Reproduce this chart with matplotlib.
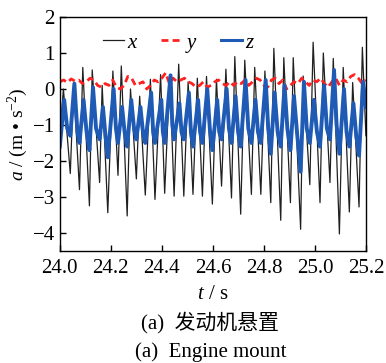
import numpy as np
import matplotlib as mpl
import matplotlib.pyplot as plt

mpl.use('Agg')

plt.rcParams['font.family'] = ['Liberation Serif', 'Noto Sans CJK SC']
plt.rcParams['mathtext.fontset'] = 'custom'
plt.rcParams['mathtext.rm'] = 'Liberation Serif'
plt.rcParams['mathtext.it'] = 'Liberation Serif:italic'

# x direction: turning points (trough / peak)
x_t = [24.000, 24.014, 24.041, 24.054, 24.077, 24.090, 24.116, 24.127, 24.156, 24.166,
       24.188, 24.208, 24.228, 24.241, 24.264, 24.277, 24.300, 24.313, 24.335, 24.355,
       24.373, 24.395, 24.411, 24.431, 24.448, 24.466, 24.486, 24.503, 24.522, 24.539,
       24.559, 24.575, 24.598, 24.614, 24.634, 24.651, 24.673, 24.686, 24.709, 24.725,
       24.751, 24.764, 24.788, 24.804, 24.827, 24.839, 24.866, 24.878, 24.904, 24.915,
       24.944, 24.954, 24.980, 24.993, 25.020, 25.033, 25.059, 25.072, 25.096, 25.111,
       25.135, 25.148, 25.173, 25.186, 25.200]
x_a = [-1.3, 0.0, -2.35, 0.1, -2.8, 0.6, -3.25, 0.53, -2.6, 0.1,
       -3.44, 0.5, -2.4, 0.64, -3.53, 0.0, -2.5, -0.2, -2.95, 0.27,
       -3.07, 0.4, -2.9, 0.38, -2.98, 0.69, -2.98, 0.2, -2.93, 0.3,
       -2.98, 0.35, -3.2, 0.27, -2.7, 0.55, -3.03, 0.9, -3.48, 0.8,
       -2.93, 0.6, -2.93, 0.5, -3.16, 1.13, -3.65, 0.87, -3.16, 0.87,
       -3.9, 0.36, -2.66, 1.3, -3.16, 1.0, -2.6, 0.85, -4.03, 0.6,
       -3.42, 0.18, -3.28, 1.16, -1.3]

# z direction: trough, peak, shoulder per cycle
z_t = [24.000, 24.017, 24.029, 24.041, 24.057, 24.069, 24.077, 24.093, 24.105, 24.116,
       24.130, 24.142, 24.156, 24.169, 24.179, 24.188, 24.211, 24.220, 24.228, 24.244,
       24.254, 24.264, 24.280, 24.291, 24.300, 24.316, 24.326, 24.335, 24.358, 24.366,
       24.373, 24.398, 24.404, 24.411, 24.434, 24.441, 24.448, 24.469, 24.477, 24.486,
       24.506, 24.514, 24.522, 24.542, 24.550, 24.559, 24.578, 24.588, 24.598, 24.617,
       24.625, 24.634, 24.654, 24.663, 24.673, 24.689, 24.699, 24.709, 24.728, 24.739,
       24.751, 24.767, 24.777, 24.788, 24.807, 24.817, 24.827, 24.842, 24.854, 24.866,
       24.881, 24.892, 24.904, 24.918, 24.931, 24.944, 24.957, 24.968, 24.980, 24.996,
       25.008, 25.020, 25.036, 25.047, 25.059, 25.075, 25.085, 25.096, 25.114, 25.124,
       25.135, 25.151, 25.162, 25.173, 25.189, 25.200]
z_a = [-1.6, -0.3, -1.1, -1.3, 0.15, -1.2, -1.5, -0.3, -1.2, -1.7,
       0.05, -1.1, -1.4, -0.5, -1.3, -1.9, 0.0, -1.1, -1.5, -0.5,
       -1.2, -1.6, -0.3, -1.1, -1.4, -0.5, -1.2, -1.5, -0.1, -1.2,
       -1.5, -0.3, -1.2, -1.5, 0.38, -1.0, -1.4, -0.4, -1.2, -1.4,
       -0.1, -1.2, -1.6, -0.3, -1.2, -1.5, 0.0, -1.1, -1.7, -0.3,
       -1.2, -1.4, 0.0, -1.1, -1.5, -0.2, -1.2, -1.6, 0.25, -1.1,
       -1.5, -0.3, -1.2, -1.5, 0.25, -1.1, -1.8, -0.1, -1.2, -1.6,
       0.1, -1.1, -1.7, -0.2, -1.3, -2.3, 0.2, -1.1, -1.5, -0.3,
       -1.2, -1.6, 0.1, -1.1, -1.4, 0.53, -1.0, -1.8, 0.0, -1.2,
       -1.6, -0.4, -1.3, -1.85, 0.2, -0.5]

# y direction: evenly sampled
y_a = [0.2, 0.25, 0.18, 0.28, 0.22, 0.25, 0.15, 0.2,
       0.3, 0.25, 0.1, 0.05, 0.15, 0.1, 0.25, 0.05,
       0.0, 0.1, 0.35, 0.3, 0.1, 0.15, 0.2, 0.0,
       0.1, 0.25, 0.2, 0.3, 0.45, 0.15, 0.3, 0.2,
       0.25, 0.3, 0.2, 0.15, 0.05, 0.1, 0.2, 0.05,
       0.1, 0.2, 0.25, 0.15, 0.1, 0.2, 0.1, 0.2,
       0.15, 0.25, 0.1, 0.2, 0.3, 0.25, 0.1, 0.05,
       0.25, 0.3, 0.15, 0.25, 0.0, 0.1, 0.2, 0.15,
       0.3, 0.2, 0.1, 0.25, 0.2, 0.3, 0.15, 0.05,
       0.2, 0.3, 0.1, 0.25, 0.2, 0.35, 0.4, 0.3, 0.15, 0.25]
y_t = np.linspace(24.0, 25.2, len(y_a))

xticks = [24.0, 24.2, 24.4, 24.6, 24.8, 25.0, 25.2]
yticks = [2, 1, 0, -1, -2, -3, -4]

fig = plt.figure(figsize=(3.86, 3.63), dpi=100)
ax = fig.add_axes([0.155, 0.309, 0.793, 0.644])

ax.plot(x_t, x_a, color='#202020', lw=0.9, label='$x$')
ax.plot(y_t, y_a, color='#ff2020', lw=2.0, ls=(0, (2.5, 1.5)), label='$y$')
ax.plot(z_t, z_a, color='#1f5bb5', lw=2.8, label='$z$')

ax.set_xlim(24.0, 25.2)
ax.set_ylim(-4.5, 2)
ax.set_xticks(xticks)
ax.set_xticklabels([f'{v:.1f}' for v in xticks])
ax.set_yticks(yticks)
ax.set_yticklabels([str(v).replace('-', '\u2212') for v in yticks])
ax.tick_params(axis='x', pad=6)
ax.tick_params(direction='in', labelsize=15, length=4, width=1)
for s in ax.spines.values():
    s.set_linewidth(1)

ax.set_xlabel('$t$ / s', fontsize=15, labelpad=5)
ax.set_ylabel('$a$ / (m • s$^{-2}$)', fontsize=14, labelpad=2)

leg = ax.legend(loc='center', bbox_to_anchor=(0.39, 0.885), ncol=3, frameon=False,
                fontsize=15, handlelength=1.0, handletextpad=0.15, columnspacing=1.1)
for h in leg.legend_handles:
    h.set_linewidth(min(h.get_linewidth(), 2.2))

fig.text(0.545, 0.112, '(a)  发动机悬置', ha='center', va='center', fontsize=15)
fig.text(0.545, 0.030, '(a)  Engine mount', ha='center', va='center', fontsize=15)

plt.savefig('out.png', dpi=100)
plt.close()
